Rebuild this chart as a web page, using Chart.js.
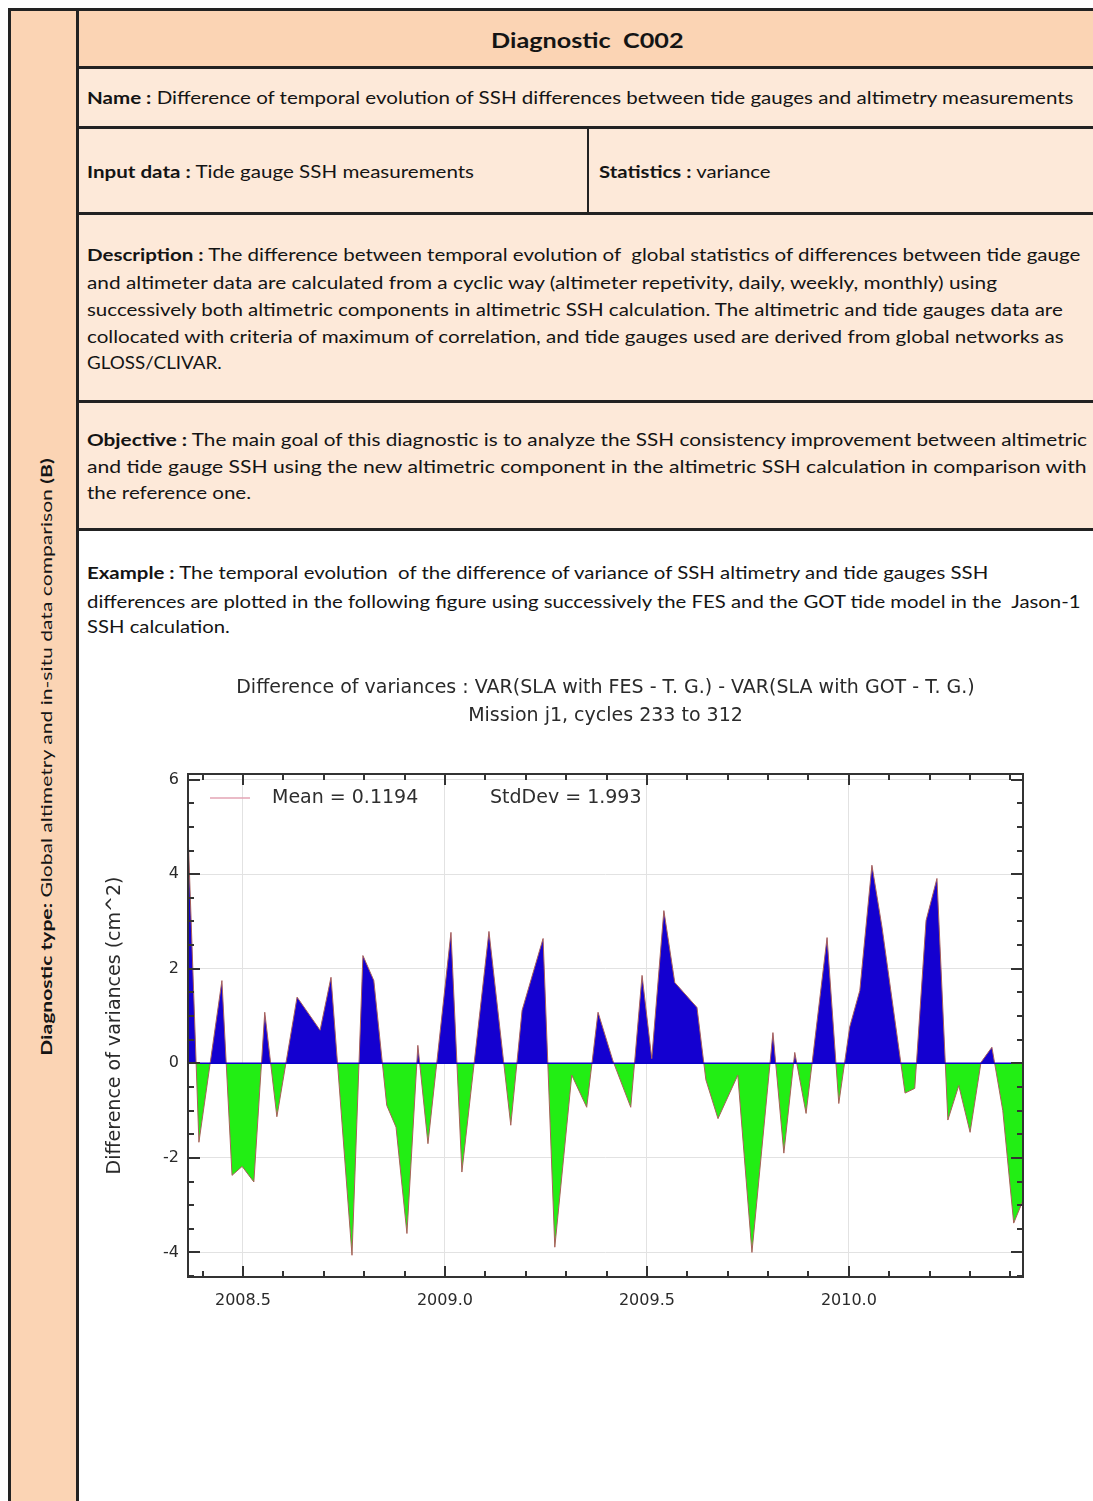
<!DOCTYPE html>
<html>
<head>
<meta charset="utf-8">
<script src="https://cdn.jsdelivr.net/npm/chart.js@4.4.0/dist/chart.umd.min.js"></script>
<style>
  body { margin: 0; width: 1093px; height: 1501px; position: relative; overflow: hidden; background: #fff; font-family: Lato, sans-serif; color: #141414; }
  .box { position: absolute; }
  .bar { position: absolute; background: #222; }
  .ln { position: absolute; white-space: pre; font-size: 17px; line-height: 22px; transform-origin: 0 50%; }
  .ln.c, .ln.rot { transform-origin: 50% 50%; }
  #chartwrap { position: absolute; left: 96px; top: 660px; width: 967px; height: 662px; }
</style>
</head>
<body>

<!-- fonds du tableau -->
<div class="box" style="left:8px;top:8px;width:71px;height:1493px;background:#fbd4b4"></div>
<div class="box" style="left:79px;top:8px;width:1014px;height:60px;background:#fbd4b4"></div>
<div class="box" style="left:79px;top:68px;width:1014px;height:462px;background:#fde9d9"></div>

<!-- traits -->
<div class="bar" style="left:8px;top:8px;width:1085px;height:3px"></div>
<div class="bar" style="left:8px;top:8px;width:3px;height:1493px"></div>
<div class="bar" style="left:76px;top:8px;width:3px;height:1493px"></div>
<div class="bar" style="left:76px;top:66px;width:1017px;height:3px"></div>
<div class="bar" style="left:76px;top:126px;width:1017px;height:3px"></div>
<div class="bar" style="left:76px;top:212px;width:1017px;height:3px"></div>
<div class="bar" style="left:76px;top:400px;width:1017px;height:3px"></div>
<div class="bar" style="left:76px;top:528px;width:1017px;height:3px"></div>
<div class="bar" style="left:587px;top:127px;width:2px;height:87px"></div>

<!-- textes -->
<div class="ln rot" data-w="597" data-cx="45" data-cy="757" style="font-size:16px"><b>Diagnostic type:</b> Global altimetry and in-situ data comparison <b>(B)</b></div>

<div class="ln c" data-w="193" data-cx="587" data-cy="40" style="font-size:20px;font-weight:bold">Diagnostic  C002</div>

<div class="ln" data-w="986" style="left:87px;top:87px"><b>Name :</b> Difference of temporal evolution of SSH differences between tide gauges and altimetry measurements</div>

<div class="ln" data-w="387" style="left:87px;top:161px"><b>Input data :</b> Tide gauge SSH measurements</div>
<div class="ln" data-w="171" style="left:599px;top:161px"><b>Statistics :</b> variance</div>

<div class="ln" data-w="993" style="left:87px;top:244px"><b>Description :</b> The difference between temporal evolution of  global statistics of differences between tide gauge</div>
<div class="ln" data-w="910" style="left:87px;top:272px">and altimeter data are calculated from a cyclic way (altimeter repetivity, daily, weekly, monthly) using</div>
<div class="ln" data-w="976" style="left:87px;top:299px">successively both altimetric components in altimetric SSH calculation. The altimetric and tide gauges data are</div>
<div class="ln" data-w="977" style="left:87px;top:326px">collocated with criteria of maximum of correlation, and tide gauges used are derived from global networks as</div>
<div class="ln" data-w="135" style="left:87px;top:352px">GLOSS/CLIVAR.</div>

<div class="ln" data-w="1000" style="left:87px;top:429px"><b>Objective :</b> The main goal of this diagnostic is to analyze the SSH consistency improvement between altimetric</div>
<div class="ln" data-w="1000" style="left:87px;top:456px">and tide gauge SSH using the new altimetric component in the altimetric SSH calculation in comparison with</div>
<div class="ln" data-w="164" style="left:87px;top:482px">the reference one.</div>

<div class="ln" data-w="901" style="left:87px;top:562px"><b>Example :</b> The temporal evolution  of the difference of variance of SSH altimetry and tide gauges SSH</div>
<div class="ln" data-w="993" style="left:87px;top:591px">differences are plotted in the following figure using successively the FES and the GOT tide model in the  Jason-1</div>
<div class="ln" data-w="143" style="left:87px;top:616px">SSH calculation.</div>

<div id="chartwrap"><canvas id="c002"></canvas></div>

<script>
// temps (années décimales) et différence de variance (cm^2)
const cycleYears = [
  2008.364, 2008.391, 2008.448, 2008.473, 2008.498, 2008.527, 2008.554, 2008.584, 2008.634, 2008.691,
  2008.718, 2008.770, 2008.797, 2008.824, 2008.856, 2008.879, 2008.906, 2008.933, 2008.958, 2009.015,
  2009.042, 2009.109, 2009.163, 2009.191, 2009.243, 2009.272, 2009.314, 2009.351, 2009.379, 2009.416,
  2009.460, 2009.488, 2009.512, 2009.542, 2009.569, 2009.624, 2009.646, 2009.676, 2009.725, 2009.760,
  2009.812, 2009.839, 2009.866, 2009.894, 2009.946, 2009.975, 2010.002, 2010.027, 2010.057, 2010.082,
  2010.139, 2010.163, 2010.191, 2010.218, 2010.245, 2010.272, 2010.300, 2010.327, 2010.354, 2010.381,
  2010.408, 2010.431
];
const varDiff = [
  4.90, -1.67, 1.75, -2.37, -2.18, -2.51, 1.08, -1.13, 1.40, 0.70,
  1.82, -4.06, 2.28, 1.75, -0.89, -1.35, -3.60, 0.38, -1.70, 2.77,
  -2.30, 2.79, -1.31, 1.12, 2.64, -3.89, -0.25, -0.93, 1.08, 0.05,
  -0.93, 1.86, 0.10, 3.23, 1.71, 1.18, -0.35, -1.17, -0.25, -4.00,
  0.65, -1.90, 0.23, -1.06, 2.66, -0.85, 0.77, 1.54, 4.19, 2.88,
  -0.63, -0.53, 3.02, 3.91, -1.20, -0.47, -1.46, 0.02, 0.34, -1.00,
  -3.38, -2.90
];
const xRange = [2008.364, 2010.431];
const yRange = [-4.52, 6.12];
const xMinorStep = 0.1, xMajorStep = 0.5;
const yMinorStep = 0.5, yMajorStep = 2;
const meanText = 'Mean = 0.1194';
const stdDevText = 'StdDev = 1.993';
const titleLines = [
  'Difference of variances : VAR(SLA with FES - T. G.) - VAR(SLA with GOT - T. G.)',
  'Mission j1, cycles 233 to 312'
];
const yTitle = 'Difference of variances (cm^2)';

// ajustement des lignes de texte à la largeur de l'original
function fitLines() {
  document.querySelectorAll('[data-w]').forEach(el => {
    const natural = el.offsetWidth;
    const s = (+el.dataset.w) / natural;
    if (el.dataset.cx) {
      el.style.left = (+el.dataset.cx - natural / 2) + 'px';
      el.style.top = (+el.dataset.cy - 11) + 'px';
    }
    const rot = el.classList.contains('rot') ? 'rotate(-90deg) ' : '';
    el.style.transform = rot + 'scaleX(' + s.toFixed(4) + ')';
  });
}
document.fonts.ready.then(fitLines);

function isMajor(v, step) {
  const r = v / step;
  return Math.abs(r - Math.round(r)) < 1e-6;
}

const plotFont = 'DejaVu Sans';

const frameTicks = {
  id: 'frameTicks',
  afterDatasetsDraw(chart) {
    const { ctx, chartArea: a, scales: { x, y } } = chart;
    ctx.save();
    ctx.strokeStyle = '#333';
    ctx.lineWidth = 2;
    ctx.beginPath();
    x.ticks.forEach(t => {
      const px = Math.round(x.getPixelForValue(t.value));
      const len = isMajor(t.value, xMajorStep) ? 11 : 6;
      ctx.moveTo(px, a.bottom); ctx.lineTo(px, a.bottom - len);
      ctx.moveTo(px, a.top); ctx.lineTo(px, a.top + len);
    });
    y.ticks.forEach(t => {
      const py = Math.round(y.getPixelForValue(t.value));
      const len = isMajor(t.value, yMajorStep) ? 12 : 6;
      ctx.moveTo(a.left, py); ctx.lineTo(a.left + len, py);
      ctx.moveTo(a.right, py); ctx.lineTo(a.right - len, py);
    });
    ctx.stroke();
    ctx.lineWidth = 2;
    ctx.strokeRect(a.left, a.top, a.right - a.left, a.bottom - a.top);

    // légende dans le cadre
    ctx.strokeStyle = '#e3a4b4';
    ctx.lineWidth = 1.5;
    ctx.beginPath();
    ctx.moveTo(a.left + 22, a.top + 24);
    ctx.lineTo(a.left + 62, a.top + 24);
    ctx.stroke();
    ctx.fillStyle = '#2e2e2e';
    ctx.font = '19px "' + plotFont + '"';
    ctx.textBaseline = 'middle';
    ctx.fillText(meanText, a.left + 84, a.top + 24);
    ctx.fillText(stdDevText, a.left + 302, a.top + 24);
    ctx.restore();
  }
};

const points = cycleYears.map((yr, i) => ({ x: yr, y: varDiff[i] }));

new Chart(document.getElementById('c002'), {
  type: 'line',
  data: {
    datasets: [
      {
        label: 'zero',
        data: [{ x: xRange[0], y: 0 }, { x: xRange[1], y: 0 }],
        borderColor: '#0a00c8',
        borderWidth: 1.5,
        pointRadius: 0,
        fill: false,
        order: 0
      },
      {
        label: meanText,
        data: points,
        borderColor: '#a8605a',
        borderWidth: 1,
        pointRadius: 0,
        tension: 0,
        fill: { target: 'origin', above: '#1400d0', below: '#22ee14' },
        order: 1
      }
    ]
  },
  options: {
    responsive: true,
    maintainAspectRatio: false,
    animation: false,
    layout: { padding: { left: 0, right: 40, top: 0, bottom: 0 } },
    plugins: {
      legend: { display: false },
      tooltip: { enabled: false },
      title: {
        display: true,
        fullSize: false,
        text: titleLines,
        color: '#2a2a2a',
        font: { family: plotFont, size: 19, weight: 'normal', lineHeight: '28px' },
        padding: { top: 14, bottom: 44 }
      }
    },
    scales: {
      x: {
        type: 'linear',
        min: xRange[0],
        max: xRange[1],
        afterFit(s) { s.height = 45; },
        border: { display: false },
        grid: {
          drawTicks: false,
          color: c => (c.tick && isMajor(c.tick.value, xMajorStep)) ? '#e2e2e2' : 'rgba(0,0,0,0)'
        },
        ticks: {
          stepSize: xMinorStep,
          includeBounds: false,
          autoSkip: false,
          maxRotation: 0,
          padding: 14,
          color: '#2a2a2a',
          font: { family: plotFont, size: 16 },
          callback: v => isMajor(v, xMajorStep) ? v.toFixed(1) : ''
        }
      },
      y: {
        min: yRange[0],
        max: yRange[1],
        afterFit(s) { s.width = 92; },
        border: { display: false },
        grid: {
          drawTicks: false,
          color: c => (c.tick && isMajor(c.tick.value, yMajorStep) && Math.abs(c.tick.value) > 1e-6) ? '#e2e2e2' : 'rgba(0,0,0,0)'
        },
        title: {
          display: true,
          text: yTitle,
          color: '#2a2a2a',
          font: { family: plotFont, size: 19 },
          padding: { top: 8, bottom: 0 }
        },
        ticks: {
          stepSize: yMinorStep,
          includeBounds: false,
          autoSkip: false,
          padding: 9,
          color: '#2a2a2a',
          font: { family: plotFont, size: 16 },
          callback: v => isMajor(v, yMajorStep) ? String(Math.round(v)) : ''
        }
      }
    }
  },
  plugins: [frameTicks]
});
</script>
</body>
</html>
